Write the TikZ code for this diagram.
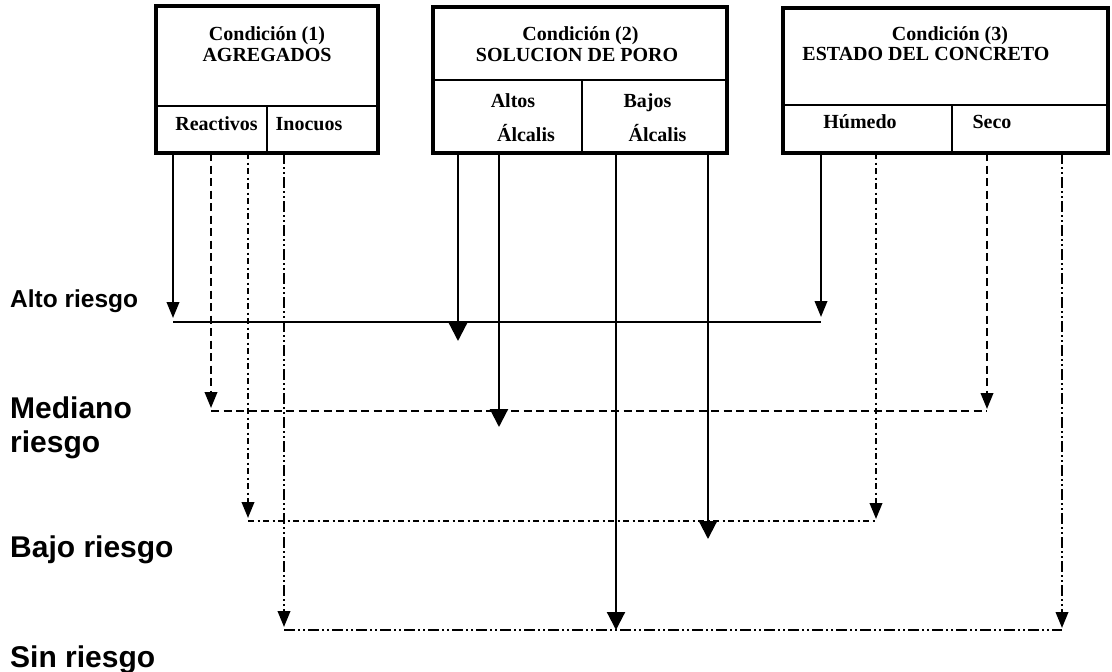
\documentclass[tikz,border=0pt]{standalone}
\usepackage{fontspec}
\setmainfont{Liberation Serif}
\newfontfamily\arialfont{Liberation Sans}
\usetikzlibrary{arrows.meta,calc}

\begin{document}
\begin{tikzpicture}[x=1pt,y=-1pt,
  cell/.style={draw, line width=1.8pt, inner sep=0pt, outer sep=0pt, anchor=north west},
  frame/.style={draw, line width=3.4pt},
  boxtxt/.style={font=\fontsize{20}{22}\selectfont\bfseries, inner sep=0pt, anchor=base},
  risk/.style={font=\arialfont\fontsize{30}{34}\selectfont\bfseries, inner sep=0pt, align=left},
  link/.style={line width=2.2pt},
  smallhead/.style={-{Triangle[length=16pt,width=12.5pt]}},
  bighead/.style={-{Triangle[length=18pt,width=18pt]}},
  dsh/.style={dash pattern=on 8pt off 4.5pt},
  dd/.style={dash pattern=on 6pt off 3.5pt on 2pt off 3.5pt},
  ldd/.style={dash pattern=on 11pt off 3pt on 2pt off 3pt on 2pt off 3pt},
]
\useasboundingbox (0,0) rectangle (1112,672);

% ---- Condición (1): agregados
\node[cell, minimum width=222pt, minimum height=100pt] (h1) at (156,6) {};
\node[cell, minimum width=111pt, minimum height=47pt] (r1) at (156,106) {};
\node[cell, minimum width=111pt, minimum height=47pt] (i1) at (267,106) {};
\draw[frame] (h1.north west) rectangle (i1.south east);
\node[boxtxt] (t1a) at (267,40) {Condición (1)};
\node[boxtxt] (t1b) at (267,61) {AGREGADOS};
\node[boxtxt] (t1c) at (216.5,130) {Reactivos};
\node[boxtxt] (t1d) at (309,130) {Inocuos};

% ---- Condición (2): solución de poro
\node[cell, minimum width=294pt, minimum height=73pt] (h2) at (433,7) {};
\node[cell, minimum width=149pt, minimum height=73pt] (a2) at (433,80) {};
\node[cell, minimum width=145pt, minimum height=73pt] (b2) at (582,80) {};
\draw[frame] (h2.north west) rectangle (b2.south east);
\node[boxtxt] (t2a) at (580.5,40) {Condición (2)};
\node[boxtxt] (t2b) at (577,61) {SOLUCION DE PORO};
\node[boxtxt] (t2c) at (513,107) {Altos};
\node[boxtxt] (t2d) at (526,141) {Álcalis};
\node[boxtxt] (t2e) at (647.5,107) {Bajos};
\node[boxtxt] (t2f) at (657.5,141) {Álcalis};

% ---- Condición (3): estado del concreto
\node[cell, minimum width=325pt, minimum height=97pt] (h3) at (783,8) {};
\node[cell, minimum width=169pt, minimum height=48pt] (hu3) at (783,105) {};
\node[cell, minimum width=156pt, minimum height=48pt] (se3) at (952,105) {};
\draw[frame] (h3.north west) rectangle (se3.south east);
\node[boxtxt] (t3a) at (950,40) {Condición (3)};
\node[boxtxt] (t3b) at (926,60) {ESTADO DEL CONCRETO};
\node[boxtxt] (t3c) at (860,128) {Húmedo};
\node[boxtxt] (t3d) at (992,128) {Seco};

% ---- risk levels
\node[risk, anchor=base west, font=\arialfont\fontsize{24.5}{28}\selectfont\bfseries] (alto) at (10,307) {Alto riesgo};
\node[risk, anchor=north west] (mediano) at (10,397) {Mediano\\riesgo};
\node[risk, anchor=base west] (bajo) at (10,557) {Bajo riesgo};
\node[risk, anchor=base west] (sin) at (10,667) {Sin riesgo};

% ---- ends of the horizontal risk lines
\coordinate (al) at (173,322);  \coordinate (ar) at (821,322);
\coordinate (ml) at (211,411);  \coordinate (mr) at (987,411);
\coordinate (bl) at (248,521);  \coordinate (br) at (876,521);
\coordinate (sl) at (284,630);  \coordinate (sr) at (1062,630);

% tips of the arrows leaving Condición (2)
\coordinate (p1) at (458,341);
\coordinate (p2) at (499,427);
\coordinate (p3) at (616,630);
\coordinate (p4) at (708,539);

% horizontal risk lines
\draw[link] (al) -- (ar);
\draw[link, dsh] (ml) -- (mr);
\draw[link, dd] (bl) -- (br);
\draw[link, ldd] (sl) -- (sr);

% arrows from Condición (1)
\draw[link, smallhead] (r1.south -| al) -- ($(al)+(0,-4)$);
\draw[link, smallhead, dsh] (r1.south -| ml) -- ($(ml)+(0,-3)$);
\draw[link, smallhead, dd] (r1.south -| bl) -- ($(bl)+(0,-3)$);
\draw[link, smallhead, ldd] (i1.south -| sl) -- ($(sl)+(0,-3)$);

% arrows from Condición (2)
\draw[link, bighead] (a2.south -| p1) -- (p1);
\draw[link, bighead] (a2.south -| p2) -- (p2);
\draw[link, bighead] (b2.south -| p3) -- (p3);
\draw[link, bighead] (b2.south -| p4) -- (p4);

% arrows from Condición (3)
\draw[link, smallhead] (hu3.south -| ar) -- ($(ar)+(0,-5)$);
\draw[link, smallhead, dd] (hu3.south -| br) -- ($(br)+(0,-2)$);
\draw[link, smallhead, dsh] (se3.south -| mr) -- ($(mr)+(0,-2)$);
\draw[link, smallhead, ldd] (se3.south -| sr) -- ($(sr)+(0,-2)$);
\end{tikzpicture}
\end{document}
